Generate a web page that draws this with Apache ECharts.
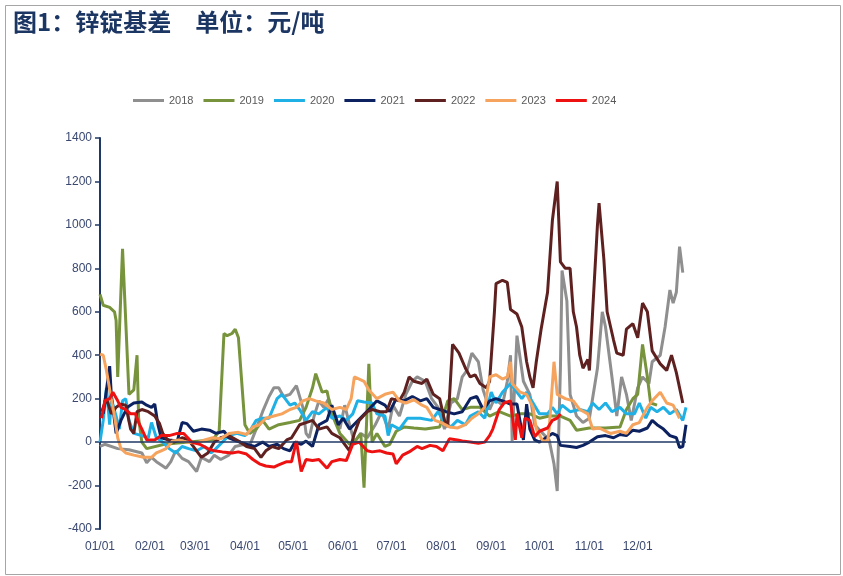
<!DOCTYPE html>
<html>
<head>
<meta charset="utf-8">
<script src="https://cdn.jsdelivr.net/npm/echarts@6/dist/echarts.min.js"></script>
<style>
html,body{margin:0;padding:0;background:#fff;}
#chart{width:843px;height:576px;}
</style>
</head>
<body>
<div id="chart"></div>
<script>
// x categories: every calendar day, labelled MM/DD; points are [dayOfYear(0 = 01/01), value]
const monthLengths = [31,28,31,30,31,30,31,31,30,31,30,31];
const categories = [];
monthLengths.forEach((n, m) => {
  for (let d = 1; d <= n; d++) categories.push(String(m + 1).padStart(2, '0') + '/' + String(d).padStart(2, '0'));
});
const yTicks = [-400, -200, 0, 200, 400, 600, 800, 1000, 1200, 1400];
const seriesNames = ['2018','2019','2020','2021','2022','2023','2024'];

const s2018 = [[0,-20],[3,-10],[11,-30],[18,-35],[26,-50],[29,-95],[32,-70],[35,-90],[39,-110],[41,-120],[44,-90],[47,-40],[51,-75],[55,-90],[60,-135],[63,-70],[68,-90],[71,-60],[75,-80],[80,-60],[84,-20],[90,-10],[93,-15],[97,60],[101,140],[105,210],[108,250],[111,250],[114,210],[118,220],[122,260],[126,160],[128,40],[130,20],[133,120],[136,190],[139,160],[142,200],[146,100],[149,60],[152,170],[155,80],[158,0],[162,40],[166,20],[171,80],[175,140],[179,60],[182,170],[186,120],[190,220],[194,280],[197,300],[202,280],[206,200],[210,160],[214,60],[218,180],[222,200],[225,300],[228,330],[231,410],[235,370],[238,240],[242,150],[245,200],[250,170],[253,280],[255,400],[256,5],[259,490],[263,280],[267,220],[270,80],[275,40],[279,10],[282,-100],[284,-225],[286,340],[287,790],[290,650],[292,220],[296,120],[300,90],[304,110],[309,340],[312,600],[314,530],[318,300],[321,120],[324,300],[327,220],[330,100],[334,250],[337,300],[341,270],[343,370],[348,400],[351,530],[354,700],[356,640],[358,690],[360,900],[362,780]];
const s2019 = [[0,680],[2,630],[6,620],[9,600],[10,560],[11,300],[14,890],[18,220],[21,240],[23,400],[24,110],[26,0],[29,-30],[40,-10],[55,0],[70,10],[74,50],[77,500],[79,490],[82,500],[84,520],[86,480],[90,80],[93,40],[97,60],[101,100],[105,60],[111,80],[118,90],[124,100],[128,160],[132,250],[134,315],[138,230],[141,235],[144,130],[149,40],[155,-10],[159,10],[162,40],[164,-210],[167,360],[169,0],[172,40],[177,-20],[180,-10],[184,50],[189,70],[195,65],[202,60],[211,70],[216,190],[220,200],[225,150],[230,160],[236,160],[242,120],[248,140],[255,120],[261,130],[267,130],[273,110],[279,120],[286,120],[292,100],[296,55],[304,65],[314,65],[323,70],[327,150],[331,200],[334,220],[337,450],[340,300],[342,180],[346,170]];
const s2020 = [[0,0],[2,100],[4,250],[6,80],[7,200],[10,120],[12,60],[14,190],[16,200],[18,100],[21,40],[26,30],[30,20],[32,90],[35,20],[39,0],[43,-30],[47,-50],[51,-20],[55,-30],[60,-40],[65,-20],[69,-50],[72,-30],[76,0],[80,30],[85,40],[90,30],[93,50],[97,100],[101,110],[105,110],[110,200],[113,220],[118,170],[121,180],[124,150],[128,100],[132,140],[136,130],[141,160],[144,110],[149,120],[153,100],[157,130],[160,190],[164,185],[169,180],[172,130],[177,120],[179,30],[181,80],[186,60],[191,110],[199,110],[206,100],[210,140],[214,90],[218,70],[222,100],[227,80],[230,120],[235,140],[239,110],[243,230],[246,180],[250,230],[255,270],[259,230],[262,200],[265,230],[269,180],[273,130],[278,130],[281,160],[284,130],[287,170],[292,140],[298,150],[303,140],[306,180],[310,150],[314,180],[318,140],[323,160],[327,130],[332,130],[335,180],[339,110],[342,160],[346,140],[350,160],[354,130],[358,150],[362,100],[364,160]];
const s2021 = [[2,130],[6,350],[7,220],[10,40],[13,100],[17,160],[21,180],[26,185],[29,170],[32,160],[34,175],[35,170],[36,80],[38,20],[43,10],[48,5],[51,90],[54,85],[58,50],[63,60],[68,55],[72,40],[77,50],[80,20],[85,5],[91,-10],[96,-20],[101,0],[105,-20],[110,-10],[114,-30],[118,-40],[121,0],[125,-10],[128,5],[132,-20],[136,80],[141,100],[144,170],[148,80],[151,110],[155,60],[159,90],[163,120],[167,150],[172,190],[177,170],[180,140],[184,200],[189,190],[194,210],[199,190],[203,200],[207,160],[211,150],[215,140],[220,130],[225,140],[230,200],[234,210],[238,150],[242,190],[246,200],[250,190],[255,175],[259,175],[263,10],[265,175],[267,60],[270,10],[273,0],[278,25],[281,40],[284,30],[286,-15],[292,-20],[296,-25],[300,-15],[304,0],[309,25],[314,30],[319,20],[323,35],[327,30],[331,55],[335,50],[340,65],[343,100],[346,80],[350,60],[354,30],[358,20],[360,-25],[362,-20],[364,80]];
const s2022 = [[1,140],[4,200],[7,130],[10,160],[13,175],[16,170],[19,60],[21,40],[23,140],[26,150],[30,140],[34,120],[37,85],[39,40],[42,10],[46,0],[51,20],[55,10],[60,-40],[63,-70],[67,-50],[71,0],[75,20],[80,30],[86,5],[91,-20],[96,-30],[100,-70],[103,-40],[107,-20],[111,-30],[116,10],[119,20],[124,80],[128,90],[132,100],[136,60],[141,70],[144,40],[149,20],[152,-10],[155,-40],[158,40],[161,100],[166,140],[169,150],[174,140],[178,140],[181,200],[186,190],[189,230],[192,300],[195,280],[200,270],[203,290],[207,220],[211,200],[214,100],[216,70],[219,450],[222,420],[223,410],[227,340],[230,300],[233,310],[236,270],[240,250],[242,280],[245,600],[246,730],[250,745],[253,735],[255,610],[259,590],[262,530],[265,370],[267,300],[269,250],[271,370],[274,520],[278,690],[281,1020],[284,1200],[286,830],[289,800],[292,800],[294,600],[296,530],[298,400],[300,340],[303,380],[304,330],[306,600],[309,1000],[310,1100],[313,840],[315,600],[319,470],[321,410],[325,400],[327,520],[331,545],[334,480],[337,640],[340,600],[343,420],[348,360],[352,330],[355,400],[358,320],[362,180]];
const s2023 = [[0,405],[2,400],[4,330],[7,200],[9,120],[11,20],[13,-30],[16,-50],[21,-60],[27,-70],[32,-70],[35,-50],[38,-40],[41,-30],[45,5],[49,10],[54,0],[60,-5],[65,10],[70,20],[75,15],[80,40],[86,45],[91,35],[95,70],[99,80],[103,110],[108,120],[113,130],[118,150],[122,160],[126,190],[130,200],[134,190],[139,180],[144,150],[149,160],[153,150],[156,200],[158,300],[161,290],[164,280],[167,240],[172,200],[177,220],[182,230],[186,190],[190,180],[195,195],[200,170],[203,160],[208,100],[212,90],[217,70],[222,65],[227,80],[231,110],[235,130],[239,160],[242,300],[246,310],[250,290],[253,300],[255,370],[256,270],[261,230],[265,220],[269,160],[271,60],[275,5],[278,5],[279,60],[282,370],[284,220],[289,200],[294,190],[298,150],[303,130],[306,60],[310,65],[317,40],[323,50],[327,40],[331,80],[335,90],[340,160],[343,190],[348,230],[352,180],[356,170],[360,110]];
const s2024 = [[1,110],[3,190],[6,200],[8,230],[11,190],[13,160],[16,150],[19,130],[22,130],[24,90],[26,60],[29,10],[34,10],[38,30],[43,30],[48,40],[52,40],[57,0],[62,-10],[67,-30],[71,-40],[76,-45],[82,-50],[86,-45],[91,-55],[95,-80],[99,-100],[103,-110],[108,-115],[111,-105],[116,-90],[119,-90],[122,5],[125,-135],[128,-80],[132,-85],[136,-80],[141,-120],[144,-90],[149,-80],[153,-85],[157,-10],[161,0],[166,-40],[169,-45],[174,-40],[178,-50],[182,-55],[184,-100],[188,-60],[192,-45],[197,-20],[200,-30],[205,-15],[209,-20],[213,-40],[217,15],[222,10],[225,5],[230,0],[235,-5],[239,0],[242,30],[244,60],[248,150],[251,180],[255,190],[256,190],[258,10],[259,130],[262,20],[264,110],[267,100],[270,25],[273,50],[278,65],[281,100],[284,110],[286,130]];

const seriesData = [s2018, s2019, s2020, s2021, s2022, s2023, s2024];
const colors = ['#8f8f8f','#77933c','#1fb1e6','#0c2160','#5f2120','#f6a35e','#ee1111'];

const chart = echarts.init(document.getElementById('chart'));
const series = seriesNames.map((name, i) => {
  const s = {
    name, type: 'line', data: seriesData[i], showSymbol: false, symbol: 'none',
    lineStyle: { width: 3, color: colors[i] }, itemStyle: { color: colors[i] },
    animation: false
  };
  if (i === 0) {
    s.markLine = {
      silent: true, symbol: 'none', label: { show: false },
      lineStyle: { color: '#1f3864', width: 1.5, type: 'solid' },
      data: [{ yAxis: 0 }], animation: false
    };
  }
  return s;
});

chart.setOption({
  animation: false,
  backgroundColor: '#fff',
  title: {
    text: '图1：锌锭基差\u3000单位：元/吨',
    left: 8, top: 5,
    textStyle: { fontFamily: 'Noto Sans CJK SC', fontWeight: 'bold', fontSize: 24, color: '#1c3663' }
  },
  graphic: [{
    type: 'rect', left: 3, top: 3, silent: true,
    shape: { width: 835, height: 569 },
    style: { fill: 'none', stroke: '#a6a6a6', lineWidth: 1 }
  }],
  legend: {
    data: seriesNames, left: 128, top: 90,
    icon: 'rect', itemWidth: 31, itemHeight: 3, itemGap: 10,
    textStyle: { color: '#595959', fontSize: 11, fontFamily: 'Arial' }
  },
  grid: { left: 100, right: 157, top: 138, bottom: 47 },
  xAxis: {
    type: 'category', data: categories, boundaryGap: false,
    axisLine: { show: false, onZero: false },
    axisTick: { show: false },
    splitLine: { show: false },
    axisLabel: {
      interval: (idx, val) => val.endsWith('/01'),
      color: '#3a4870', fontSize: 12, fontFamily: 'Arial', margin: 12
    }
  },
  yAxis: {
    type: 'value', min: yTicks[0], max: yTicks[yTicks.length - 1], interval: 200,
    axisLine: { show: true, lineStyle: { color: '#1f3864', width: 2 } },
    axisTick: { show: true, length: 5, lineStyle: { color: '#1f3864', width: 1.5 } },
    splitLine: { show: false },
    axisLabel: { color: '#3a4870', fontSize: 12, fontFamily: 'Arial', margin: 8, formatter: v => String(v) }
  },
  series
});
</script>
</body>
</html>
